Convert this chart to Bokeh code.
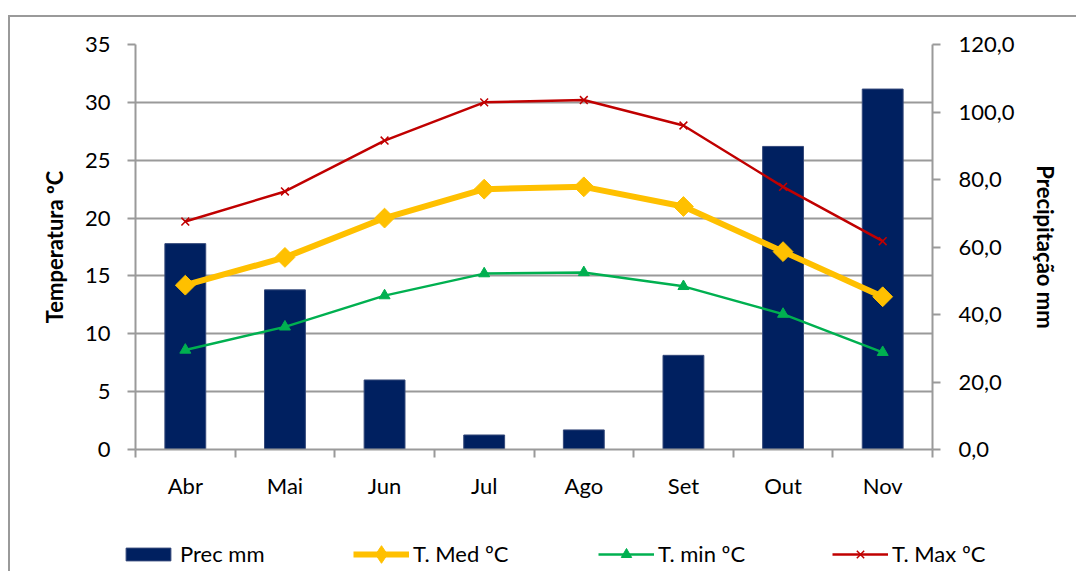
import math
from bokeh.plotting import figure
from bokeh.layouts import column
from bokeh.models import (Range1d, LinearAxis, FixedTicker, Legend, LegendItem,
                          ColumnDataSource)
from bokeh.embed import file_html
from bokeh.resources import INLINE

months = ["Abr", "Mai", "Jun", "Jul", "Ago", "Set", "Out", "Nov"]
prec_mm = [61.0, 47.3, 20.6, 4.3, 5.8, 27.9, 89.8, 106.8]
t_med = [14.2, 16.6, 20.0, 22.5, 22.7, 21.0, 17.1, 13.2]
t_min = [8.6, 10.6, 13.3, 15.2, 15.3, 14.1, 11.7, 8.4]
t_max = [19.7, 22.3, 26.7, 30.0, 30.2, 28.0, 22.7, 18.0]
temp_ticks = [0, 5, 10, 15, 20, 25, 30, 35]
prec_ticks = [0, 20, 40, 60, 80, 100, 120]
prec_tick_labels = ["0,0", "20,0", "40,0", "60,0", "80,0", "100,0", "120,0"]
series_labels = ["Prec mm", "T. Med ºC", "T. min ºC", "T. Max ºC"]

FONT = "Lato"
GREY = "#9a9a9a"
C_PREC, C_MED, C_MIN, C_MAX = "#002060", "#FFC000", "#00B050", "#C00000"

xc = [i + 0.5 for i in range(len(months))]
src = ColumnDataSource(dict(x=xc, prec=prec_mm, med=t_med, tmin=t_min, tmax=t_max))

p = figure(width=1076, height=510, x_range=Range1d(0, len(months)), y_range=Range1d(0, 35),
           output_backend="svg", toolbar_location=None,
           min_border_left=135, min_border_right=144, min_border_top=44, min_border_bottom=61)
p.extra_y_ranges = {"prec": Range1d(0, 120)}
p.outline_line_color = None
p.background_fill_color = "white"
p.border_fill_color = "white"

# x axis
xa = p.xaxis[0]
xa.ticker = FixedTicker(ticks=xc, minor_ticks=list(range(len(months) + 1)))
xa.major_label_overrides = {x: m for x, m in zip(xc, months)}
xa.major_tick_line_color = None
xa.minor_tick_line_color = GREY
xa.minor_tick_line_width = 2
xa.minor_tick_out = 8
xa.minor_tick_in = 0
xa.axis_line_color = GREY
xa.axis_line_width = 2
xa.major_label_text_font = FONT
xa.major_label_text_font_size = "22px"
xa.major_label_text_color = "black"
xa.major_label_standoff = 14

# left axis
ya = p.yaxis[0]
ya.ticker = FixedTicker(ticks=temp_ticks)
ya.minor_tick_line_color = None
ya.major_tick_out = 8
ya.major_tick_in = 0
ya.major_tick_line_color = GREY
ya.major_tick_line_width = 2
ya.axis_line_color = GREY
ya.axis_line_width = 2
ya.major_label_text_font = FONT
ya.major_label_text_font_size = "22px"
ya.major_label_text_color = "black"
ya.major_label_standoff = 17
ya.axis_label = "Temperatura ºC"
ya.axis_label_text_font = FONT
ya.axis_label_text_font_style = "bold"
ya.axis_label_text_font_size = "22px"
ya.axis_label_text_color = "black"
ya.axis_label_standoff = 14

# right axis
ra = LinearAxis(y_range_name="prec", ticker=FixedTicker(ticks=prec_ticks))
ra.major_label_overrides = {t: l for t, l in zip(prec_ticks, prec_tick_labels)}
ra.minor_tick_line_color = None
ra.major_tick_out = 8
ra.major_tick_in = 0
ra.major_tick_line_color = GREY
ra.major_tick_line_width = 2
ra.axis_line_color = GREY
ra.axis_line_width = 2
ra.major_label_text_font = FONT
ra.major_label_text_font_size = "22px"
ra.major_label_text_color = "black"
ra.major_label_standoff = 18
ra.axis_label = "Precipitação mm"
ra.axis_label_text_font = FONT
ra.axis_label_text_font_style = "bold"
ra.axis_label_text_font_size = "22px"
ra.axis_label_text_color = "black"
ra.axis_label_standoff = 14
p.add_layout(ra, "right")

p.xgrid.visible = False
p.ygrid.ticker = FixedTicker(ticks=temp_ticks)
p.ygrid.grid_line_color = GREY
p.ygrid.grid_line_width = 2


def draw(fig, s, bar_range, legend_mode=False):
    r = {}
    r["bar"] = fig.vbar(x="x", top="prec", width=0.41, source=s, y_range_name=bar_range,
                        fill_color=C_PREC, line_color="#34487a", line_width=1)
    if legend_mode:
        med_marker = fig.scatter("x", "med", source=s, marker="diamond", size=18,
                                 fill_color=C_MED, line_color=C_MED)
    else:
        med_marker = fig.scatter("x", "med", source=s, marker="square", size=14,
                                 angle=math.pi / 4, fill_color=C_MED, line_color=C_MED)
    r["med"] = [fig.line("x", "med", source=s, line_color=C_MED, line_width=6), med_marker]
    r["min"] = [fig.line("x", "tmin", source=s, line_color=C_MIN, line_width=2.5),
                fig.scatter("x", "tmin", source=s, marker="triangle", size=11,
                            fill_color=C_MIN, line_color=C_MIN)]
    r["max"] = [fig.line("x", "tmax", source=s, line_color=C_MAX, line_width=2.5),
                fig.scatter("x", "tmax", source=s, marker="x", size=11,
                            line_color=C_MAX, line_width=1.5)]
    return r


draw(p, src, "prec")

# legend strip (separate figure so that the legend is not clipped); its ranges
# lie away from the data, so only the legend glyphs show there
q = figure(width=1076, height=61, x_range=Range1d(1000, 2000), y_range=Range1d(1000, 2000),
           output_backend="svg", toolbar_location=None,
           min_border=0, min_border_left=0, min_border_right=0,
           min_border_top=0, min_border_bottom=0)
q.xaxis.visible = False
q.yaxis.visible = False
q.grid.visible = False
q.outline_line_color = None
q.background_fill_color = None
q.border_fill_color = None
lr = draw(q, src, "default", legend_mode=True)
leg_renderers = [[lr["bar"]], lr["med"], lr["min"], lr["max"]]
leg_x = [120, 353, 598, 832]
leg_h = [16, 44, 26, 26]
for label, rs, x0, h in zip(series_labels, leg_renderers, leg_x, leg_h):
    lg = Legend(items=[LegendItem(label=label, renderers=rs)],
                location=(x0, 17.5 - max(h, 27) / 2),
                orientation="horizontal", glyph_width=56, glyph_height=h,
                label_standoff=4, padding=0, margin=0, border_line_color=None,
                background_fill_alpha=0, label_text_font=FONT,
                label_text_font_size="22px", label_text_color="black")
    q.add_layout(lg, "center")

layout = column(p, column(q), spacing=0)
layout.stylesheets = [""":host::after { content: ""; position: absolute; left: 8px; top: 15px;
 width: 2000px; height: 2000px; border-left: 2px solid #9a9a9a; border-top: 2px solid #9a9a9a;
 pointer-events: none; box-sizing: border-box; }
:host { position: relative; overflow: hidden; }"""]

open("out.html", "w").write(file_html(layout, INLINE))
